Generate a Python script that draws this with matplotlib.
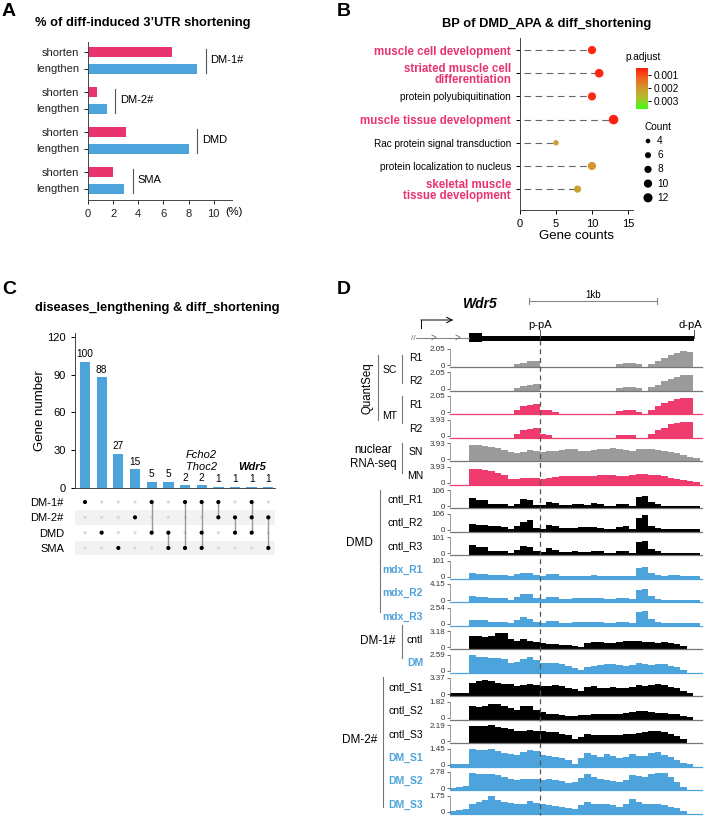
import numpy as np
import matplotlib
matplotlib.use('Agg')
import matplotlib.pyplot as plt
from matplotlib.colors import LinearSegmentedColormap, Normalize
from matplotlib.cm import ScalarMappable
from matplotlib.patches import Rectangle

plt.rcParams['font.family'] = ['Liberation Sans', 'DejaVu Sans']

W, H = 705, 819
PINK = '#E8336F'
BLUE = '#4DA3DB'
GRAY = '#9B9B9B'
TPINK = '#F03B6E'

# ---------------- A: % of 3'UTR shortening ----------------
a_groups = ['DM-1#', 'DM-2#', 'DMD', 'SMA']
a_shorten = [6.7, 0.7, 3.0, 2.0]
a_lengthen = [8.7, 1.5, 8.0, 2.9]

# ---------------- B: GO BP dot plot ----------------
b_terms = ['muscle cell development', 'striated muscle cell\ndifferentiation',
           'protein polyubiquitination', 'muscle tissue development',
           'Rac protein signal transduction', 'protein localization to nucleus',
           'skeletal muscle\ntissue development']
b_counts = [10, 11, 10, 13, 5, 10, 8]
b_padj = [0.00055, 0.0006, 0.00065, 0.00046, 0.0021, 0.002, 0.0022]
b_muscle = [True, True, False, True, False, False, True]
b_legend_counts = [4, 6, 8, 10, 12]

# ---------------- C: upset ----------------
c_counts = [100, 88, 27, 15, 5, 5, 2, 2, 1, 1, 1, 1]
c_sets = ['DM-1#', 'DM-2#', 'DMD', 'SMA']
c_members = [[0], [2], [3], [1], [0, 2], [2, 3], [0, 3], [0, 2, 3],
             [0, 1], [1, 2], [0, 1, 2], [1, 3]]

# ---------------- D: coverage tracks (50 bp bins, fraction of track range) ----
bin_bp = 50
sc_r1 = [0, 0, 0, 0, 0, 0, 0, 0, 0, 0,
         .05, .15, .25, .28, 0, 0, 0, 0, 0, 0,
         0, 0, 0, 0, 0, 0, .08, .15, .15, .05,
         0, .08, .25, .45, .62, .78, .85, .83, 0, 0]
sc_r2 = [0, 0, 0, 0, 0, 0, 0, 0, 0, 0,
         .05, .15, .24, .27, 0, 0, 0, 0, 0, 0,
         0, 0, 0, 0, 0, 0, .05, .12, .12, .03,
         0, .08, .25, .45, .6, .75, .85, .82, 0, 0]
mt_r1 = [0, 0, 0, 0, 0, 0, 0, 0, 0, 0,
         .15, .35, .45, .48, .12, .1, .03, 0, 0, 0,
         0, 0, 0, 0, 0, 0, .05, .12, .12, .03,
         0, .12, .35, .55, .72, .82, .88, .86, 0, 0]
mt_r2 = [0, 0, 0, 0, 0, 0, 0, 0, 0, 0,
         .1, .32, .42, .45, .08, .06, 0, 0, 0, 0,
         0, 0, 0, 0, 0, 0, .03, .05, .05, 0,
         0, .1, .35, .5, .7, .8, .82, .82, 0, 0]
sn = [0, 0, 0, .9, .88, .8, .75, .68, .55, .45,
      .38, .45, .58, .5, .42, .5, .52, .55, .62, .6,
      .52, .5, .55, .6, .65, .72, .65, .55, .5, .6,
      .65, .62, .58, .52, .45, .38, .25, .15, .05, 0]
mn = [0, 0, 0, .85, .85, .8, .75, .62, .45, .25,
      .2, .28, .3, .28, .25, .3, .35, .4, .42, .4,
      .4, .38, .4, .45, .48, .5, .42, .4, .48, .55,
      .52, .5, .45, .38, .3, .22, .15, .08, .02, 0]
cntl_r1 = [0, 0, 0, .5, .4, .35, .15, .1, .1, .02,
           .15, .42, .35, .05, .05, .25, .2, .05, .05, .12,
           .1, .05, .18, .15, .03, .03, .1, .1, .03, .55,
           .62, .25, .1, .03, .02, .02, .02, .02, .02, 0]
cntl_r2 = [0, 0, 0, .35, .3, .3, .25, .2, .15, .05,
           .2, .5, .62, .1, .05, .3, .25, .1, .08, .12,
           .15, .15, .15, .12, .05, .05, .18, .2, .05, .75,
           .88, .25, .08, .03, .02, .02, .02, .02, .02, 0]
cntl_r3 = [0, 0, 0, .5, .38, .35, .12, .1, .1, .03,
           .2, .45, .4, .1, .05, .3, .22, .08, .05, .1,
           .08, .05, .15, .12, .03, .03, .1, .1, .03, .7,
           .75, .25, .1, .03, .02, .02, .02, .02, .02, 0]
mdx_r1 = [0, 0, 0, .2, .15, .15, .1, .08, .08, .03,
          .15, .25, .22, .08, .05, .18, .15, .05, .05, .05,
          .05, .05, .08, .05, .03, .03, .05, .05, .03, .55,
          .6, .22, .08, .05, .08, .1, .03, .02, .02, 0]
mdx_r2 = [0, 0, 0, .25, .22, .2, .12, .1, .1, .03,
          .2, .4, .35, .1, .05, .2, .18, .05, .05, .1,
          .1, .12, .15, .12, .05, .05, .12, .15, .05, .6,
          .7, .25, .08, .03, .02, .02, .02, .02, .02, 0]
mdx_r3 = [0, 0, 0, .25, .22, .2, .12, .1, .1, .03,
          .2, .4, .3, .08, .05, .15, .15, .05, .05, .08,
          .08, .1, .12, .1, .05, .05, .08, .08, .05, .75,
          .8, .3, .08, .03, .02, .02, .02, .02, .02, 0]
dm1_cntl = [0, 0, 0, .7, .68, .65, .7, .9, .85, .5,
            .4, .5, .4, .3, .25, .2, .2, .15, .1, .05,
            .02, .25, .3, .3, .28, .25, .3, .35, .4, .35,
            .3, .3, .28, .3, .25, .2, .05, 0, 0, 0]
dm1_dm = [0, 0, 0, .95, .85, .82, .8, .8, .72, .45,
          .55, .7, .85, .65, .5, .45, .45, .4, .3, .15,
          .02, .25, .3, .35, .4, .4, .35, .3, .35, .45,
          .42, .35, .4, .38, .3, .25, .05, 0, 0, 0]
cntl_s1 = [.05, .05, .05, .7, .8, .85, .8, .72, .65, .6,
           .5, .55, .6, .55, .5, .5, .55, .5, .4, .3,
           .2, .45, .5, .4, .4, .45, .4, .35, .45, .55,
           .5, .55, .65, .55, .45, .35, .2, .05, 0, 0]
cntl_s2 = [0, 0, 0, .7, .65, .7, .85, .85, .7, .6,
           .5, .7, .72, .45, .35, .2, .2, .18, .12, .12,
           .15, .18, .2, .2, .2, .22, .25, .28, .35, .4,
           .38, .35, .3, .28, .25, .2, .1, .02, 0, 0]
cntl_s3 = [0, 0, 0, .95, .95, .95, 1, .9, .8, .75,
           .6, .62, .7, .65, .6, .55, .55, .45, .35, .1,
           .25, .45, .38, .35, .35, .35, .38, .42, .45, .5,
           .55, .6, .65, .55, .45, .3, .1, 0, 0, 0]
dm_s1 = [.05, .05, .05, .95, .9, .9, .95, .85, .72, .65,
         .6, .8, .9, .85, .6, .55, .5, .4, .3, .05,
         .4, .7, .6, .5, .65, .55, .4, .45, .65, .55,
         .55, .7, .8, .6, .45, .3, .12, .02, 0, 0]
dm_s2 = [.03, .05, .1, .95, .9, .9, .85, .8, .7, .55,
         .5, .55, .55, .55, .5, .55, .5, .45, .3, .4,
         .6, .85, .7, .55, .5, .45, .35, .5, .8, .75,
         .7, .85, .92, .95, .7, .35, .08, 0, 0, 0]
dm_s3 = [.05, .12, .15, .5, .6, .75, .95, .75, .6, .55,
         .45, .5, .65, .55, .45, .4, .35, .3, .2, .15,
         .4, .6, .5, .45, .5, .4, .3, .45, .8, .6,
         .5, .5, .45, .4, .3, .2, .05, 0, 0, 0]

track_data = [sc_r1, sc_r2, mt_r1, mt_r2, sn, mn, cntl_r1, cntl_r2, cntl_r3,
              mdx_r1, mdx_r2, mdx_r3, dm1_cntl, dm1_dm, cntl_s1, cntl_s2,
              cntl_s3, dm_s1, dm_s2, dm_s3]
track_names = ['R1', 'R2', 'R1', 'R2', 'SN', 'MN', 'cntl_R1', 'cntl_R2',
               'cntl_R3', 'mdx_R1', 'mdx_R2', 'mdx_R3', 'cntl', 'DM',
               'cntl_S1', 'cntl_S2', 'cntl_S3', 'DM_S1', 'DM_S2', 'DM_S3']
track_max = ['2.05', '2.05', '2.05', '3.93', '3.93', '3.93', '106', '106',
             '101', '101', '4.15', '2.54', '3.18', '2.59', '3.37', '1.82',
             '2.19', '1.45', '2.78', '1.75']
track_col = [GRAY, GRAY, TPINK, TPINK, GRAY, TPINK, 'k', 'k', 'k',
             BLUE, BLUE, BLUE, 'k', BLUE, 'k', 'k', 'k', BLUE, BLUE, BLUE]

# gene model (bp from left edge of tracks)
exon_bp = (148, 250)
utr_end_bp = 1906
ppa_bp = 703
scale_bp = (617, 1617)
span_bp = 1968.75
px_per_bp = 252 / span_bp

fig = plt.figure(figsize=(W / 100, H / 100), dpi=100)


def px_axes(l, t, w, h):
    return fig.add_axes([l / W, 1 - (t + h) / H, w / W, h / H])


# ================= A =================
axA = px_axes(88, 42, 144, 158)
ys_s = [10 + 40 * g for g in range(4)]
ys_l = [y + 16.5 for y in ys_s]
axA.barh(ys_s, a_shorten, height=10, color=PINK)
axA.barh(ys_l, a_lengthen, height=10, color=BLUE)
axA.set_ylim(158, 0)
axA.set_xlim(0, 11.45)
axA.set_yticks(ys_s + ys_l)
axA.set_yticklabels(['shorten'] * 4 + ['lengthen'] * 4, fontsize=8)
axA.set_xticks(range(0, 11, 2))
axA.tick_params(labelsize=8, length=3, width=0.7, colors='#222')
for s in ['top', 'right']:
    axA.spines[s].set_visible(False)
for s in ['left', 'bottom']:
    axA.spines[s].set_linewidth(0.7)
    axA.spines[s].set_color('#444')
for g, name in enumerate(a_groups):
    xl = max(a_shorten[g], a_lengthen[g]) + 0.65
    axA.plot([xl, xl], [ys_s[g] - 3, ys_l[g] + 4.5], color='#555', lw=0.8)
    axA.text(xl + 0.4, (ys_s[g] + ys_l[g]) / 2, name, va='center', fontsize=8)

# ================= B =================
def dot_size(c):
    return 4 * np.asarray(c) - 5

cmap = LinearSegmentedColormap.from_list(
    'padj', ['#FF1E10', '#EE6420', '#D29A2E', '#A9C22A', '#3CFF14'])
norm = Normalize(vmin=0.00046, vmax=0.0036)

axB = px_axes(520, 38, 113, 172)
rows = np.arange(len(b_terms))
for r, c in zip(rows, b_counts):
    axB.plot([0.6, c], [r, r], color='#666', lw=0.8, dashes=(6, 4), zorder=1)
axB.scatter(b_counts, rows, s=dot_size(b_counts), c=b_padj, cmap=cmap,
            norm=norm, edgecolors='none', zorder=3)
axB.set_xlim(0, 15.7)
axB.set_ylim(6.9, -0.52)
axB.set_yticks(rows)
axB.set_yticklabels(b_terms)
for lab, m in zip(axB.get_yticklabels(), b_muscle):
    if m:
        lab.set_color(PINK)
        lab.set_fontweight('bold')
        lab.set_fontsize(8.3)
    else:
        lab.set_fontsize(7.2)
    lab.set_linespacing(0.95)
axB.set_xticks([0, 5, 10, 15])
axB.tick_params(axis='x', labelsize=8, length=3, width=0.7)
axB.tick_params(axis='y', length=3, width=0.7)
axB.set_xlabel('Gene counts', fontsize=9.5, labelpad=1)
for s in ['top', 'right']:
    axB.spines[s].set_visible(False)
for s in ['left', 'bottom']:
    axB.spines[s].set_linewidth(0.7)
    axB.spines[s].set_color('#444')

cax = px_axes(636, 68, 12, 41)
sm = ScalarMappable(norm=norm, cmap=cmap)
cb = fig.colorbar(sm, cax=cax)
cb.ax.invert_yaxis()
cb.set_ticks([0.001, 0.002, 0.003])
cb.set_ticklabels(['0.001', '0.002', '0.003'])
cb.ax.tick_params(labelsize=7.3, length=2.5, width=0.7, pad=1.5)
cb.outline.set_visible(False)

# ================= C =================
axC = px_axes(75, 333, 200, 155)
xs = np.arange(len(c_counts))
axC.bar(xs, c_counts, width=0.62, color=BLUE)
for x, v in zip(xs, c_counts):
    axC.text(x, v + 2, str(v), ha='center', va='bottom', fontsize=7.3)
axC.text(7, 13, 'Fcho2\nThoc2', ha='center', va='bottom', fontsize=8,
         style='italic', linespacing=1.25)
axC.text(10, 13, 'Wdr5', ha='center', va='bottom', fontsize=8,
         style='italic', fontweight='bold')
axC.set_xlim(-0.6, 11.4)
axC.set_ylim(0, 123)
axC.set_yticks([0, 30, 60, 90, 120])
axC.set_xticks([])
axC.tick_params(labelsize=8, length=3, width=0.7)
axC.set_ylabel('Gene number', fontsize=9.5, labelpad=1)
for s in ['top', 'right']:
    axC.spines[s].set_visible(False)
for s in ['left', 'bottom']:
    axC.spines[s].set_linewidth(0.7)
    axC.spines[s].set_color('#444')

axM = px_axes(75, 495, 200, 60)
axM.set_xlim(-0.6, 11.4)
axM.set_ylim(3.46, -0.46)
for r in [1, 3]:
    axM.axhspan(r - 0.47, r + 0.47, color='#F2F2F2', lw=0, zorder=0)
for x, mem in enumerate(c_members):
    absent = [r for r in range(4) if r not in mem]
    axM.scatter([x] * len(absent), absent, s=5, color='#D9D9D9', zorder=2,
                edgecolors='none')
    if len(mem) > 1:
        axM.plot([x, x], [min(mem), max(mem)], color='#999', lw=1, zorder=2)
    axM.scatter([x] * len(mem), mem, s=9, color='k', zorder=3, edgecolors='none')
axM.set_yticks(range(4))
axM.set_yticklabels(c_sets, fontsize=8)
axM.set_xticks([])
axM.tick_params(length=0, pad=8)
for s in axM.spines.values():
    s.set_visible(False)

# ================= D =================
edges = np.arange(len(sc_r1) + 1) * bin_bp
base = -0.13   # baseline sits a little below the "0" tick, as in the browser shot
for i, (vals, name, mx, col) in enumerate(zip(track_data, track_names,
                                               track_max, track_col)):
    top = 349 + 23.5 * i
    ax = px_axes(450, top, 252, 18.2)
    v = np.array(vals, dtype=float)
    v = np.where(v > 0, v, base)
    ax.fill_between(edges, np.append(v, v[-1]), base, step='post',
                    color=col, lw=0)
    ax.set_xlim(0, span_bp)
    ax.set_ylim(base, 1)
    ax.set_xticks([])
    ax.set_yticks([0, 1])
    ax.set_yticklabels(['0', mx])
    ax.tick_params(axis='y', labelsize=5.8, length=2.5, width=0.5, pad=1,
                   colors='#333')
    ax.patch.set_alpha(0)
    for s in ['top', 'right']:
        ax.spines[s].set_visible(False)
    ax.spines['left'].set_linewidth(0.5)
    ax.spines['left'].set_color('#777')
    ax.spines['left'].set_bounds(0, 1)
    ax.spines['bottom'].set_linewidth(0.9)
    ax.spines['bottom'].set_color('#777' if col in ('k', GRAY) else col)
    blue_lab = col == BLUE
    fig.text(423 / W, 1 - (top + 9) / H, name, ha='right', va='center',
             fontsize=7.5, color=BLUE if blue_lab else 'k',
             fontweight='bold' if blue_lab else 'normal')

# gene model + p-pA line, in bp horizontally and px vertically
dax = px_axes(400, 285, 302, 534)
dax.set_xlim(-50 / px_per_bp, span_bp)
dax.set_ylim(534, 0)
dax.axis('off')
dax.plot([scale_bp[0], scale_bp[1]], [16, 16], color='#888', lw=0.8)
for xb in scale_bp:
    dax.plot([xb, xb], [13, 19], color='#888', lw=0.8)
dax.text(sum(scale_bp) / 2, 10, '1kb', ha='center', va='center', fontsize=7)
dax.text(234, 19, 'Wdr5', ha='center', va='center', fontsize=10,
         style='italic', fontweight='bold')
dax.plot([-227, -227], [43, 35], color='k', lw=0.7)
dax.annotate('', xy=(25, 35), xytext=(-228, 35),
             arrowprops=dict(arrowstyle='->', lw=0.7, color='k',
                             shrinkA=0, shrinkB=0))
dax.plot([-265, exon_bp[0]], [53, 53], color='#888', lw=0.8)
for xc in [-133, 55]:
    dax.text(xc, 53, '>', ha='center', va='center', fontsize=7, color='#666')
dax.text(-290, 53, '//', ha='center', va='center', fontsize=6, color='#666')
dax.add_patch(Rectangle((exon_bp[0], 48), exon_bp[1] - exon_bp[0], 9,
                        color='k', lw=0))
dax.add_patch(Rectangle((exon_bp[1], 50.5), utr_end_bp - exon_bp[1], 5,
                        color='k', lw=0))
dax.plot([utr_end_bp, utr_end_bp], [45, 53], color='#555', lw=0.7)
dax.plot([ppa_bp, ppa_bp], [45, 53], color='#555', lw=0.7)
dax.text(ppa_bp, 40, 'p-pA', ha='center', va='center', fontsize=8)
dax.text(span_bp, 40, 'd-pA', ha='right', va='center', fontsize=8)
dax.plot([ppa_bp, ppa_bp], [55, 530], color='#555', lw=0.9, dashes=(4, 3))

# ================= overlay (labels / brackets, px coords) =================
ov = fig.add_axes([0, 0, 1, 1])
ov.set_xlim(0, W)
ov.set_ylim(H, 0)
ov.axis('off')


def vline(x, y0, y1):
    ov.plot([x, x], [y0, y1], color='#777', lw=0.8)


for lab, x, y in [('A', 2, 11), ('B', 337, 11), ('C', 2, 290), ('D', 337, 290)]:
    ov.text(x, y, lab, fontsize=14, fontweight='bold', va='center', ha='left')
ov.text(35, 23, '% of diff-induced 3\u2019UTR shortening', fontsize=9.3,
        fontweight='bold', va='center')
ov.text(547, 24, 'BP of DMD_APA & diff_shortening', fontsize=9.3,
        fontweight='bold', va='center', ha='center')
ov.text(35, 308, 'diseases_lengthening & diff_shortening', fontsize=9.3,
        fontweight='bold', va='center')
ov.text(234, 212, '(%)', fontsize=8, ha='center', va='center')

ov.text(643, 57, 'p.adjust', fontsize=7.3, ha='center', va='center')
ov.text(658, 127, 'Count', fontsize=7.3, ha='center', va='center')
leg_y = [141 + 14.2 * k for k in range(len(b_legend_counts))]
ov.scatter([648] * len(leg_y), leg_y, s=dot_size(b_legend_counts), color='k',
           edgecolors='none')
for y, c in zip(leg_y, b_legend_counts):
    ov.text(657, y, str(c), fontsize=7.3, va='center')

# D left annotations
ov.text(367, 388, 'QuantSeq', rotation=90, fontsize=8.3, ha='center', va='center')
vline(378, 355, 420)
ov.text(390, 370, 'SC', fontsize=7.5, ha='center', va='center')
vline(402, 355, 383)
ov.text(390, 416, 'MT', fontsize=7.5, ha='center', va='center')
vline(402, 396, 423)
ov.text(373, 450, 'nuclear', fontsize=8.3, ha='center', va='center')
ov.text(373, 464, 'RNA-seq', fontsize=8.3, ha='center', va='center')
vline(402, 443, 473)
ov.text(373, 543, 'DMD', fontsize=8.5, ha='right', va='center')
vline(380, 490, 612)
ov.text(378, 641, 'DM-1#', fontsize=8.5, ha='center', va='center')
vline(402, 625, 658)
ov.text(377, 740, 'DM-2#', fontsize=8.5, ha='right', va='center')
vline(383, 677, 807)

fig.savefig('out.png', dpi=100)
